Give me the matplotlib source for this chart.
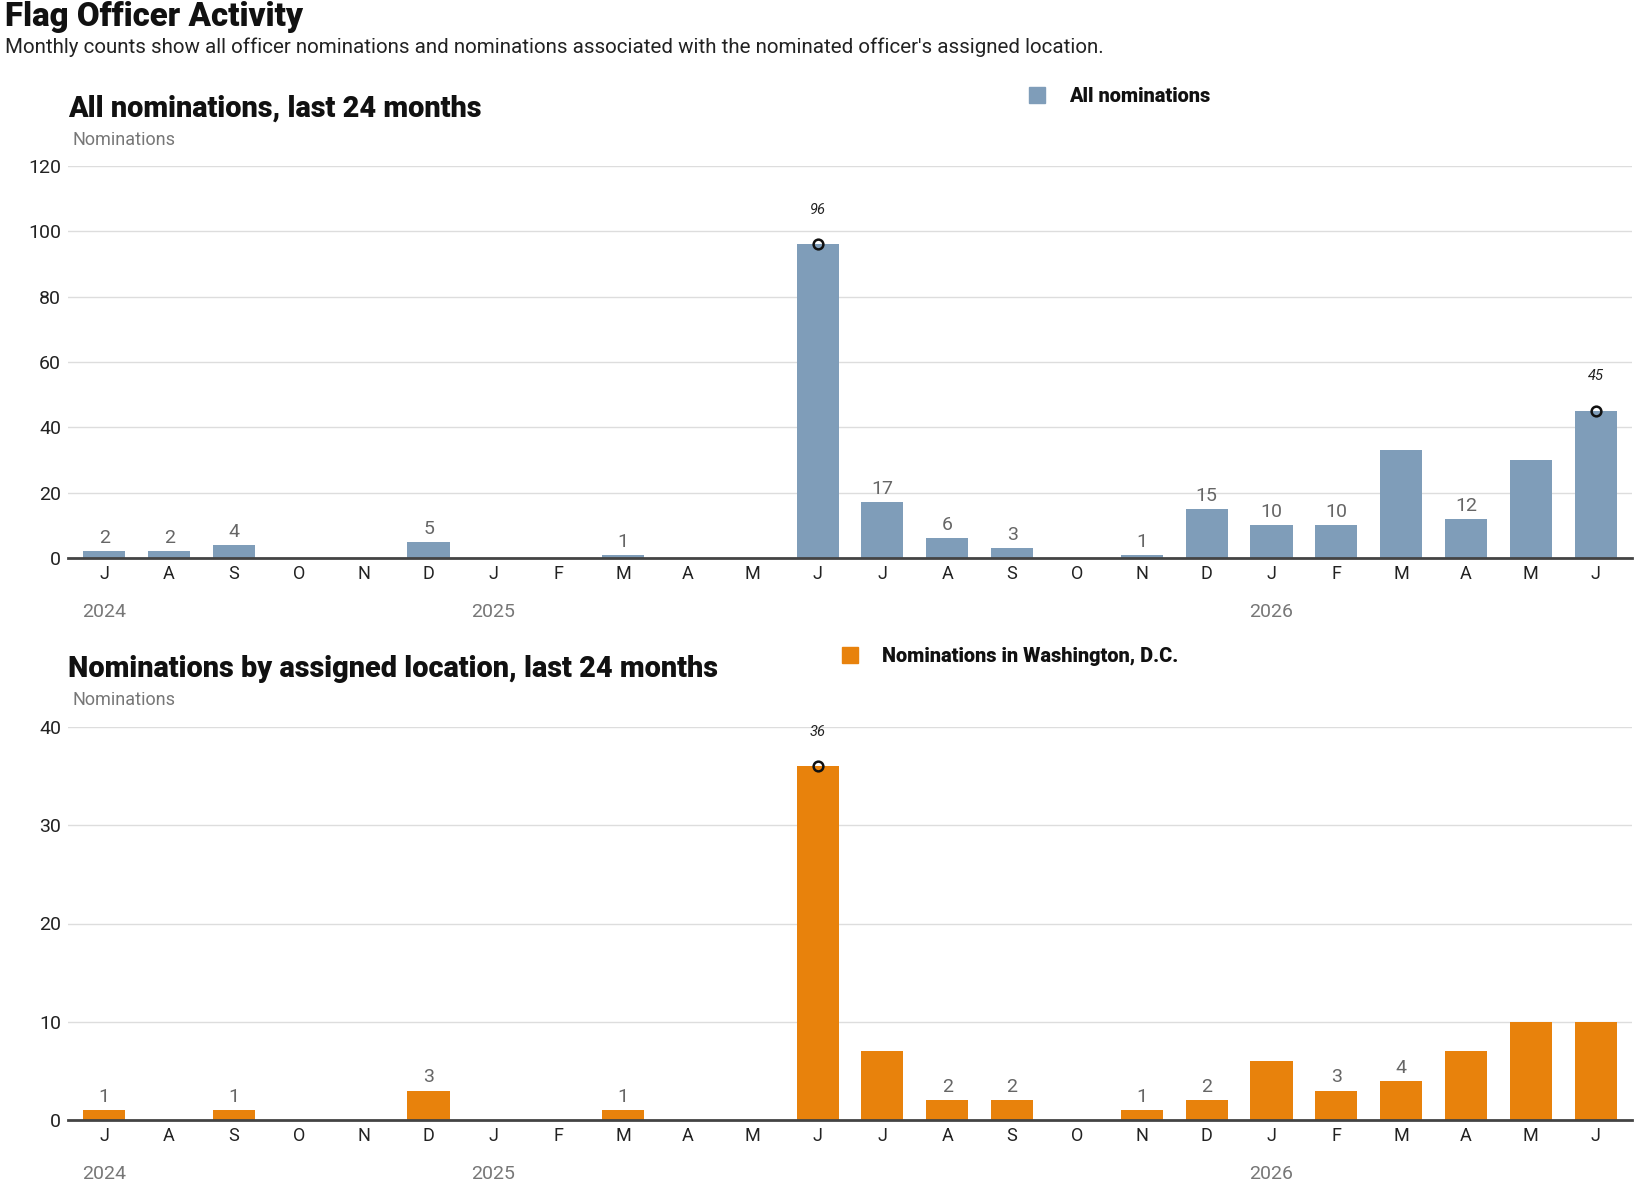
import matplotlib.pyplot as plt
import matplotlib.transforms as mtransforms
from matplotlib.patches import Rectangle

plt.rcParams['font.family'] = ['Roboto', 'DejaVu Sans']

# months from Jul 2024 to Jun 2026
months = ['J', 'A', 'S', 'O', 'N', 'D', 'J', 'F', 'M', 'A', 'M', 'J',
          'J', 'A', 'S', 'O', 'N', 'D', 'J', 'F', 'M', 'A', 'M', 'J']
years = ['2024', '2025', '2026']
year_start = [0, 6, 18]

all_noms = [2, 2, 4, 0, 0, 5, 0, 0, 1, 0, 0, 96,
            17, 6, 3, 0, 1, 15, 10, 10, 33, 12, 30, 45]
dc_noms = [1, 0, 1, 0, 0, 3, 0, 0, 1, 0, 0, 36,
           7, 2, 2, 0, 1, 2, 6, 3, 4, 7, 10, 10]

# which bars carry a plain value label / a highlighted (circled) one
all_labeled = [1, 1, 1, 0, 0, 1, 0, 0, 1, 0, 0, 0,
               1, 1, 1, 0, 1, 1, 1, 1, 0, 1, 0, 0]
all_marked = [11, 23]
dc_labeled = [1, 0, 1, 0, 0, 1, 0, 0, 1, 0, 0, 0,
              0, 1, 1, 0, 1, 1, 0, 1, 1, 0, 0, 0]
dc_marked = [11]

BLUE = '#7f9db9'
ORANGE = '#e8820c'
W, H = 1636, 1185

fig = plt.figure(figsize=(W / 100, H / 100), dpi=100)


def fy(px):
    return 1 - px / H


fig.text(5 / W, fy(17), 'Flag Officer Activity', fontsize=23.8, fontweight='black',
         color='#111111', va='center', ha='left')
fig.text(5 / W, fy(47), "Monthly counts show all officer nominations and nominations "
         "associated with the nominated officer's assigned location.",
         fontsize=14.8, color='#222222', va='center', ha='left')


def panel(rect, values, labeled, marked, color, ymax, step, title, title_y, leg_x, leg_y, leg_text):
    ax = fig.add_axes(rect)
    x = range(len(values))
    ax.bar(x, values, width=0.65, color=color, zorder=2)
    ax.set_xlim(-0.56, len(values) - 0.44)
    ax.set_ylim(0, ymax)
    ax.set_yticks(range(0, ymax + 1, step))
    ax.grid(axis='y', color='#dddddd', linewidth=1, zorder=0)
    for s in ['top', 'right', 'left']:
        ax.spines[s].set_visible(False)
    ax.spines['bottom'].set_color('#444444')
    ax.spines['bottom'].set_linewidth(2)
    ax.spines['bottom'].set_zorder(3)
    ax.set_xticks(list(x))
    ax.set_xticklabels(months)
    ax.tick_params(axis='x', length=0, pad=5, labelsize=13, labelcolor='#222222')
    ax.tick_params(axis='y', length=0, pad=5, labelsize=14, labelcolor='#222222')

    for i, v in enumerate(values):
        if labeled[i]:
            ax.annotate(str(v), (i, v), xytext=(0, 3), textcoords='offset points',
                        ha='center', va='bottom', fontsize=14, color='#666666')
    for i in marked:
        ax.plot(i, values[i], 'o', ms=7, mfc='none', mec='#111111', mew=1.8,
                zorder=4, clip_on=False)
        ax.annotate(str(values[i]), (i, values[i]), xytext=(0, 20), textcoords='offset points',
                    ha='center', va='bottom', fontsize=10.5, style='italic', color='#222222')

    trans = mtransforms.blended_transform_factory(ax.transData, ax.transAxes)
    for yr, i in zip(years, year_start):
        ax.annotate(yr, (i, 0), xycoords=trans, xytext=(0, -39), textcoords='offset points',
                    ha='center', va='center', fontsize=14, color='#777777')

    fig.text(68 / W, fy(title_y), title, fontsize=20.8, fontweight='black',
             color='#111111', va='center', ha='left')
    fig.text(73 / W, fy(title_y + 31), 'Nominations', fontsize=13,
             color='#777777', va='center', ha='left')
    fig.patches.append(Rectangle(((leg_x - 8) / W, fy(leg_y + 8)), 16 / W, 16 / H,
                                 transform=fig.transFigure, color=color))
    fig.text((leg_x + 32) / W, fy(leg_y + 1), leg_text, fontsize=14.3, fontweight='black',
             color='#111111', va='center', ha='left')
    return ax


panel([68 / W, fy(558), 1564 / W, (558 - 166) / H], all_noms, all_labeled, all_marked,
      BLUE, 120, 20, 'All nominations, last 24 months', 109, 1037, 95, 'All nominations')
panel([68 / W, fy(1120), 1564 / W, (1120 - 727) / H], dc_noms, dc_labeled, dc_marked,
      ORANGE, 40, 10, 'Nominations by assigned location, last 24 months', 669, 850, 655,
      'Nominations in Washington, D.C.')

fig.savefig('out.png', dpi=100)
